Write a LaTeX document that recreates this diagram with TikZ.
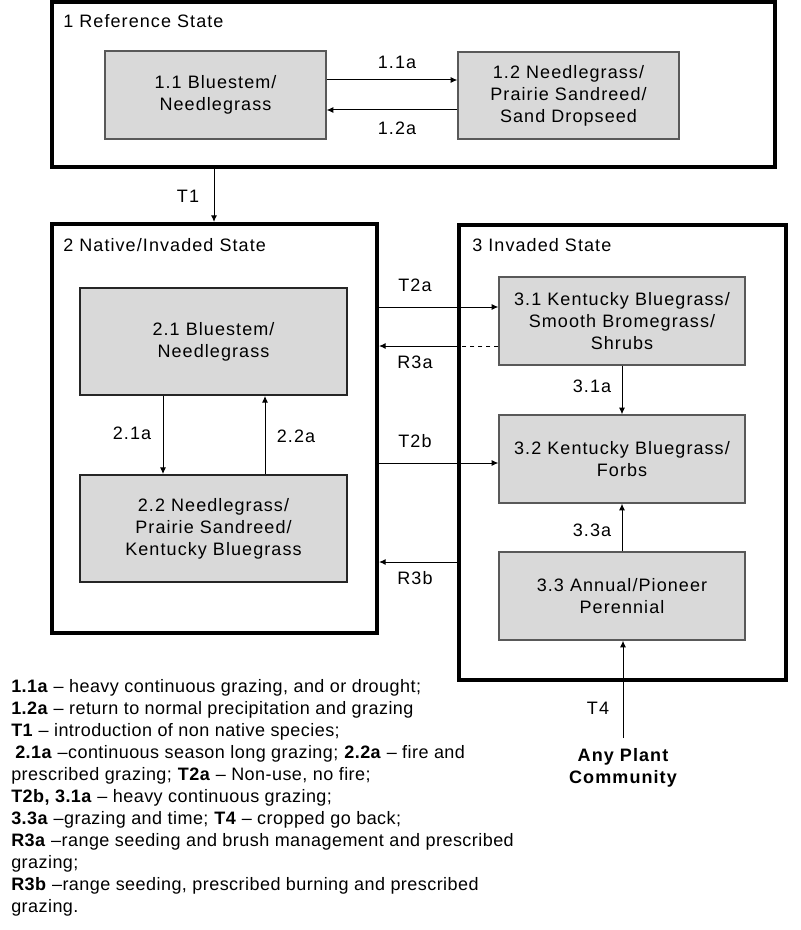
\documentclass[tikz,border=0pt]{standalone}
\usepackage{fontspec}
\setmainfont[LetterSpace=6]{Liberation Sans}
\newfontfamily\legfont[LetterSpace=2.5]{Liberation Sans}
\usetikzlibrary{arrows.meta}
\begin{document}
\begin{tikzpicture}[x=0.75pt,y=-0.75pt,
  every node/.style={font=\fontsize{13.5}{16.5}\selectfont, inner sep=0pt},
  sz/.style 2 args={minimum width=#1*0.75pt, minimum height=#2*0.75pt},
  statebox/.style={draw=black, line width=3pt, fill=none},
  commbox/.style={draw=black!65, line width=1pt, fill=gray!30, align=center},
  commboxd/.style={draw=black!85, line width=1.4pt, fill=gray!30, align=center},
  arr/.style={-{Latex[length=5pt,width=4.5pt]}, line width=0.75pt},
  leg/.style={anchor=base west, font=\legfont\fontsize{13.5}{16.5}\selectfont},
]
\useasboundingbox (0,0) rectangle (800,930);
% state boxes
\node[statebox, sz={723}{165}] (s1) at (413.5,84.5) {};
\node[statebox, sz={325}{409}] (s2) at (214.5,428.5) {};
\node[statebox, sz={327}{455}] (s3) at (622.5,452.5) {};
\node[anchor=west] (t1lbl) at (63,21) {1 Reference State};
\node[anchor=west] (t2lbl) at (63,245) {2 Native/Invaded State};
\node[anchor=west] (t3lbl) at (472,245) {3 Invaded State};
% community boxes
\node[commbox, sz={221}{88}] (b11) at (215.5,95) {1.1 Bluestem/\\Needlegrass};
\node[commbox, sz={221}{87}] (b12) at (568.5,95.5) {1.2 Needlegrass/\\Prairie Sandreed/\\Sand Dropseed};
\node[commboxd, sz={267}{107}] (b21) at (213.5,341.5) {2.1 Bluestem/\\Needlegrass};
\node[commboxd, sz={267}{107}] (b22) at (213.5,528.5) {2.2 Needlegrass/\\Prairie Sandreed/\\Kentucky Bluegrass};
\node[commbox, sz={246}{88}] (b31) at (622,321) {3.1 Kentucky Bluegrass/\\Smooth Bromegrass/\\Shrubs};
\node[commbox, sz={246}{88}] (b32) at (622,459) {3.2 Kentucky Bluegrass/\\Forbs};
\node[commbox, sz={246}{88}] (b33) at (622,596) {3.3 Annual/Pioneer\\Perennial};
\node[font=\fontsize{13.5}{16.5}\bfseries, align=center] (apc) at (623,768) {Any Plant\\Community};
% helper coordinates
\coordinate (c11a) at (0,80);
\coordinate (c12a) at (0,110);
\coordinate (ct1) at (214,0);
\coordinate (c21a) at (163,0);
\coordinate (c22a) at (265,0);
\coordinate (ct2a) at (0,307);
\coordinate (cr3a) at (459,346);
\coordinate (ct2b) at (0,463);
\coordinate (cr3b) at (0,562);
\coordinate (ct4) at (623,738);
% connectors
\draw[arr] (b11.east |- c11a) -- (b12.west |- c11a);
\draw[arr] (b12.west |- c12a) -- (b11.east |- c12a);
\draw[arr] (ct1 |- s1.south) -- (ct1 |- s2.north);
\draw[arr] (c21a |- b21.south) -- (c21a |- b22.north);
\draw[arr] (c22a |- b22.north) -- (c22a |- b21.south);
\draw[arr] (s2.east |- ct2a) -- (b31.west |- ct2a);
\draw[line width=0.75pt, dashed] (b31.west |- cr3a) -- (cr3a);
\draw[arr] (cr3a) -- (s2.east |- cr3a);
\draw[arr] (s2.east |- ct2b) -- (b32.west |- ct2b);
\draw[arr] (s3.west |- cr3b) -- (s2.east |- cr3b);
\draw[arr] (b31.south) -- (b32.north);
\draw[arr] (b33.north) -- (b32.south);
\draw[arr] (ct4) -- (ct4 |- b33.south);
% connector labels
\node (l11a) at (397,62) {1.1a};
\node (l12a) at (397,128) {1.2a};
\node (lt1) at (188,196) {T1};
\node (l21a) at (132,433) {2.1a};
\node (l22a) at (296,436) {2.2a};
\node (lt2a) at (415,285) {T2a};
\node (lr3a) at (415,362) {R3a};
\node (lt2b) at (415,441) {T2b};
\node (lr3b) at (415,578) {R3b};
\node (l31a) at (592,386) {3.1a};
\node (l33a) at (592,530) {3.3a};
\node (lt4) at (598,708) {T4};
% legend
\node[leg] (g1) at (11,692) {\textbf{1.1a} – heavy continuous grazing, and or drought;};
\node[leg] (g2) at (11,714) {\textbf{1.2a} – return to normal precipitation and grazing};
\node[leg] (g3) at (11,736) {\textbf{T1} – introduction of non native species;};
\node[leg] (g4) at (15,758) {\textbf{2.1a} –continuous season long grazing; \textbf{2.2a} – fire and};
\node[leg] (g5) at (11,780) {prescribed grazing; \textbf{T2a} – Non-use, no fire;};
\node[leg] (g6) at (11,802) {\textbf{T2b, 3.1a} – heavy continuous grazing;};
\node[leg] (g7) at (11,824) {\textbf{3.3a} –grazing and time; \textbf{T4} – cropped go back;};
\node[leg] (g8) at (11,846) {\textbf{R3a} –range seeding and brush management and prescribed};
\node[leg] (g9) at (11,868) {grazing;};
\node[leg] (g10) at (11,890) {\textbf{R3b} –range seeding, prescribed burning and prescribed};
\node[leg] (g11) at (11,912) {grazing.};
\end{tikzpicture}
\end{document}
